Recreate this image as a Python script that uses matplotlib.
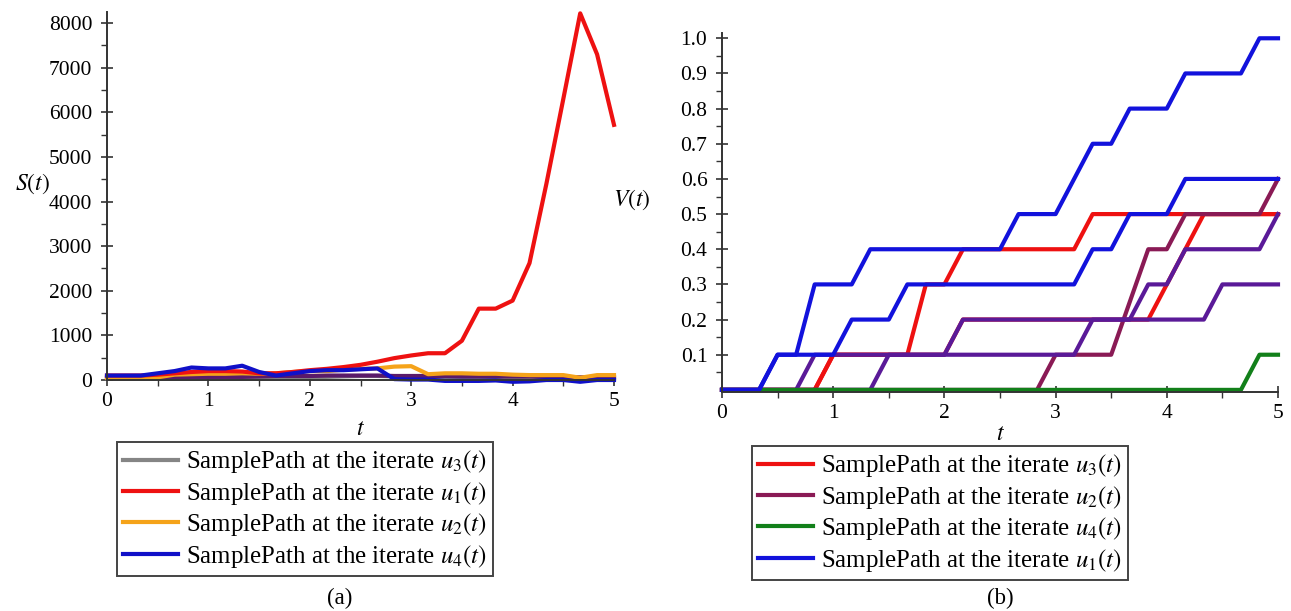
import numpy as np
import matplotlib
matplotlib.use("Agg")
import matplotlib.pyplot as plt
from matplotlib.ticker import MultipleLocator, FixedLocator

plt.rcParams['font.family'] = 'serif'
plt.rcParams['font.serif'] = ['Liberation Serif', 'DejaVu Serif']
plt.rcParams['mathtext.fontset'] = 'stix'

# sample times, step 1/6 from 0 to 5
t = np.linspace(0, 5, 31)

# (a) S(t) sample paths
s_u3 = [40, 40, 40, 40, 50, 60, 60, 60, 50, 40, 40, 50, 60, 70, 80, 90,
        90, 80, 70, 60, 60, 50, 50, 50, 40, 40, 40, 30, 30, 30, 30]
s_extra = [60, 60, 60, 60, 60, 70, 70, 70, 70, 80, 90, 90, 90, 100, 100, 100,
           100, 90, 90, 90, 90, 80, 80, 80, 80, 80, 70, 70, 60, 60, 60]
s_u2 = [50, 50, 50, 60, 120, 130, 140, 140, 150, 140, 150, 180, 200, 200, 230, 250,
        260, 300, 310, 130, 150, 150, 140, 140, 120, 110, 110, 110, 50, 110, 110]
s_u1 = [100, 100, 100, 120, 150, 180, 200, 200, 190, 150, 150, 180, 220, 250, 290, 340,
        410, 490, 550, 600, 600, 880, 1600, 1600, 1780, 2620, 4400, 6300, 8220, 7300, 5720]
s_u4 = [100, 100, 100, 150, 200, 280, 260, 260, 320, 180, 100, 150, 200, 220, 220, 240,
        260, 20, 10, 10, -20, -20, -20, -10, -40, -30, 0, 0, -40, 0, 0]

# (b) V(t) sample paths
v_red1 = [0, 0, 0, 0, 0, 0, .1, .1, .1, .1, .1, .3, .3, .4, .4, .4,
          .4, .4, .4, .4, .5, .5, .5, .5, .5, .5, .5, .5, .5, .5, .5]
v_red2 = [0, 0, 0, 0, 0, 0, .1, .1, .1, .1, .1, .1, .1, .2, .2, .2,
          .2, .2, .2, .2, .2, .2, .2, .2, .3, .4, .5, .5, .5, .5, .5]
v_maroon = [0, 0, 0, 0, 0, 0, 0, 0, 0, 0, 0, 0, 0, 0, 0, 0,
            0, 0, .1, .1, .1, .1, .25, .4, .4, .5, .5, .5, .5, .5, .6]
v_violet1 = [0, 0, 0, 0, 0, .1, .1, .1, .1, .1, .1, .1, .1, .2, .2, .2,
             .2, .2, .2, .2, .2, .2, .2, .2, .2, .2, .2, .3, .3, .3, .3]
v_violet2 = [0, 0, 0, 0, 0, 0, 0, 0, 0, .1, .1, .1, .1, .1, .1, .1,
             .1, .1, .1, .1, .2, .2, .2, .3, .3, .4, .4, .4, .4, .4, .5]
v_green = [0, 0, 0, 0, 0, 0, 0, 0, 0, 0, 0, 0, 0, 0, 0, 0,
           0, 0, 0, 0, 0, 0, 0, 0, 0, 0, 0, 0, 0, .1, .1]
v_blueA = [0, 0, 0, .1, .1, .3, .3, .3, .4, .4, .4, .4, .4, .4, .4, .4,
           .5, .5, .5, .6, .7, .7, .8, .8, .8, .9, .9, .9, .9, 1.0, 1.0]
v_blueB = [0, 0, 0, .1, .1, .1, .1, .2, .2, .2, .3, .3, .3, .3, .3, .3,
           .3, .3, .3, .3, .4, .4, .5, .5, .5, .6, .6, .6, .6, .6, .6]

W, H = 1291, 611
fig = plt.figure(figsize=(W / 100, H / 100), dpi=100)

lw = 3.0
RED = '#ee1111'
BLUE = '#1212dc'
MAROON = '#8a1a55'
VIOLET = '#5a1a98'
GREEN = '#12801a'


def style_axes(ax):
    for s in ['top', 'right']:
        ax.spines[s].set_visible(False)
    for s in ['left', 'bottom']:
        ax.spines[s].set_color('#333333')
        ax.spines[s].set_linewidth(1.4)
    ax.tick_params(which='major', direction='inout', length=9, width=1.2,
                   color='#333333', labelsize=15.5, pad=4)
    ax.tick_params(which='minor', direction='out', length=4, width=1.0, color='#333333')
    ax.tick_params(axis='y', pad=6)


def add_legend(ax, handles, labels, x0, y0):
    leg = ax.legend(handles, labels, loc='upper left', bbox_to_anchor=(x0 / W, 1 - y0 / H),
                    bbox_transform=fig.transFigure, borderaxespad=0,
                    fancybox=False, edgecolor='#444444', fontsize=17.9,
                    handlelength=2.2, handletextpad=0.33, labelspacing=0.18,
                    borderpad=0.25, framealpha=1)
    leg.get_frame().set_linewidth(1.4)
    return leg


# ---- (a)
ax1 = fig.add_axes([107 / W, 1 - 380 / H, 507 / W, 368 / H])
ax1.plot(t, s_u3, color='#858585', lw=lw, clip_on=False, label='SamplePath at the iterate $u_3(t)$')
ax1.plot(t, s_extra, color='#5a1a6a', lw=lw, clip_on=False)
ax1.plot(t, s_u2, color='#f5a31a', lw=lw, clip_on=False, label='SamplePath at the iterate $u_2(t)$')
ax1.plot(t, s_u1, color=RED, lw=lw, clip_on=False, label='SamplePath at the iterate $u_1(t)$')
ax1.plot(t, s_u4, color='#1010c8', lw=lw, clip_on=False, label='SamplePath at the iterate $u_4(t)$')
ax1.set_xlim(0, 5)
ax1.set_ylim(0, 8250)
ax1.xaxis.set_major_locator(MultipleLocator(1))
ax1.xaxis.set_minor_locator(MultipleLocator(0.5))
ax1.yaxis.set_major_locator(MultipleLocator(1000))
ax1.yaxis.set_minor_locator(MultipleLocator(500))
style_axes(ax1)
ax1.set_ylabel('$S(t)$', rotation=0, fontsize=17)
ax1.yaxis.set_label_coords(-0.147, 0.5)
ax1.set_xlabel('$t$', fontsize=17)
ax1.xaxis.set_label_coords(0.5, -0.105)

h, l = ax1.get_legend_handles_labels()
order = [0, 2, 1, 3]
add_legend(ax1, [h[i] for i in order], [l[i] for i in order], 117, 442)

# ---- (b)
ax2 = fig.add_axes([722 / W, 1 - 392 / H, 556 / W, 359 / H])
ax2.plot(t, v_red2, color=RED, lw=lw, clip_on=False)
ax2.plot(t, v_red1, color=RED, lw=lw, clip_on=False, label='SamplePath at the iterate $u_3(t)$')
ax2.plot(t, v_maroon, color=MAROON, lw=lw, clip_on=False, label='SamplePath at the iterate $u_2(t)$')
ax2.plot(t, v_violet1, color=VIOLET, lw=lw, clip_on=False)
ax2.plot(t, v_violet2, color=VIOLET, lw=lw, clip_on=False)
ax2.plot(t, v_green, color=GREEN, lw=lw, clip_on=False, label='SamplePath at the iterate $u_4(t)$')
ax2.plot(t, v_blueB, color=BLUE, lw=lw, clip_on=False)
ax2.plot(t, v_blueA, color=BLUE, lw=lw, clip_on=False, label='SamplePath at the iterate $u_1(t)$')
ax2.set_xlim(0, 5)
ax2.set_ylim(-0.006, 1.015)
ax2.xaxis.set_major_locator(MultipleLocator(1))
ax2.xaxis.set_minor_locator(MultipleLocator(0.5))
ax2.yaxis.set_major_locator(FixedLocator(np.round(np.arange(0.1, 1.01, 0.1), 1)))
ax2.yaxis.set_minor_locator(FixedLocator(np.round(np.arange(0.05, 1.01, 0.1), 2)))
ax2.set_yticklabels(['%.1f' % v for v in np.arange(0.1, 1.01, 0.1)])
style_axes(ax2)
ax2.set_ylabel('$V(t)$', rotation=0, fontsize=17)
ax2.yaxis.set_label_coords(-0.162, 0.5)
ax2.set_xlabel('$t$', fontsize=17)
ax2.xaxis.set_label_coords(0.5, -0.09)

h2, l2 = ax2.get_legend_handles_labels()
add_legend(ax2, h2, l2, 752, 446)

fig.text(340 / W, 1 - 598 / H, '(a)', fontsize=16.5, ha='center', va='center')
fig.text(1000 / W, 1 - 598 / H, '(b)', fontsize=16.5, ha='center', va='center')

fig.savefig('out.png', dpi=100)
